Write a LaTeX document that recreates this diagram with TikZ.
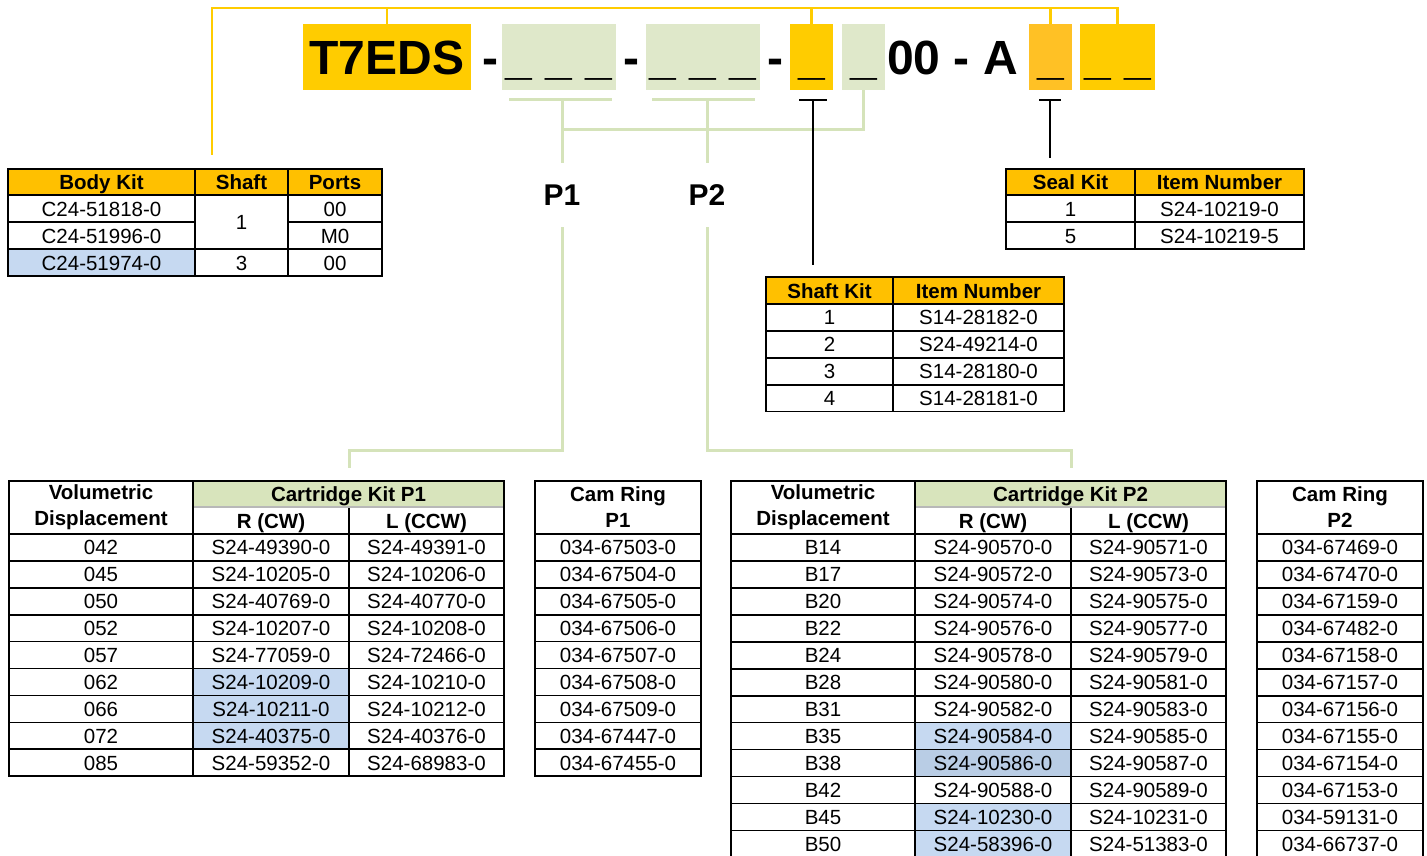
\documentclass[tikz,border=0pt]{standalone}
\usepackage{fontspec}
\setmainfont{Liberation Sans}
\usetikzlibrary{calc}
\definecolor{hdr}{HTML}{FFC000}
\definecolor{ybox}{HTML}{FFCC00}
\definecolor{ybox2}{HTML}{FFC125}
\definecolor{gbox}{HTML}{DFE8CA}
\definecolor{gline}{HTML}{D5E3BA}
\definecolor{ghdr}{HTML}{D8E4BC}
\definecolor{hl}{HTML}{C6D9F1}
\definecolor{hlb}{HTML}{B9CDE5}
\definecolor{sepgray}{HTML}{B8B8B8}
\newcommand\bodyf{\fontsize{20.5}{26}\selectfont}
\newcommand\headf{\fontsize{20.5}{26}\selectfont\bfseries}
\newcommand\bigf{\fontsize{48}{56}\selectfont\bfseries}
\newcommand\pfont{\fontsize{30}{36}\selectfont\bfseries}
\newcommand\tcell[7]{\node[cell,minimum width={(#4)-(#2)},minimum height={(#5)-(#3)},#6] (#1) at ({((#2)+(#4))/2},{((#3)+(#5))/2}) {#7};}
\tikzset{
  cellb/.style={draw=black,line width=1.6pt,inner sep=0pt,outer sep=0pt,fill=white,font=\bodyf,align=center},
  cell/.style={cellb,text height=15pt,text depth=0pt},
  hd/.style={fill=hdr,font=\headf},
  mh/.style={text height={},text depth={}},
  hbox/.style={inner sep=0pt,outer sep=0pt,minimum height=66pt,text height=35pt,text depth=0pt,font=\bigf},
  yl/.style={draw=ybox,line width=2.6pt},
  gl/.style={draw=gline,line width=3pt},
  bl/.style={draw=black,line width=2.4pt},
}
\begin{document}
\begin{tikzpicture}[x=1pt,y=-1pt]
\useasboundingbox (0,0) rectangle (1427,856);

% ---------- header code ----------
\node[hbox,fill=ybox,minimum width=168pt] (box0) at (387,57) {T7EDS};
\node[hbox] (d1) at (490,57) {-};
\node[hbox,fill=gbox,minimum width=114pt] (box1) at (559,57) {\_ \_ \_};
\node[hbox] (d2) at (631,57) {-};
\node[hbox,fill=gbox,minimum width=114pt] (box2) at (703,57) {\_ \_ \_};
\node[hbox] (d3) at (775,57) {-};
\node[hbox,fill=ybox,minimum width=43pt] (box3) at (811.5,57) {\_};
\node[hbox,fill=gbox,minimum width=43pt] (box4) at (863.5,57) {\_};
\node[hbox,anchor=west] (mid) at (887,57) {00 - A};
\node[hbox,fill=ybox2,minimum width=43pt] (box5) at (1050.5,57) {\_};
\node[hbox,fill=ybox,minimum width=75pt] (box6) at (1117.5,57) {\_ \_};

% ---------- yellow connectors ----------
\coordinate (ytop) at (0,8);
\coordinate (yend) at (212,155);
\draw[yl] (yend) |- (box6.north |- ytop) -- (box6.north);
\draw[yl] (box0.north |- ytop) -- (box0.north);
\draw[yl] (box3.north |- ytop) -- (box3.north);
\draw[yl] (box5.north |- ytop) -- (box5.north);

% ---------- green connectors ----------
\coordinate (gt) at (0,100);
\coordinate (gm) at (0,130);
\coordinate (gb) at (0,450);
\coordinate (p1top) at (562,163);
\coordinate (p2top) at (707,163);
\coordinate (p1bot) at (562,227);
\coordinate (p2bot) at (707,227);
\coordinate (c1end) at (349,468);
\coordinate (c2end) at (1071,468);
\draw[gl] (509,100) -- (612,100);
\draw[gl] (652,100) -- (755,100);
\draw[gl] (p1top |- gt) -- (p1top);
\draw[gl] (p2top |- gt) -- (p2top);
\draw[gl] (p1top |- gm) -| (box4.south);
\node[font=\pfont,inner sep=0pt] (p1) at (562,195) {P1};
\node[font=\pfont,inner sep=0pt] (p2) at (707,195) {P2};
\draw[gl] (p1bot) |- (c1end |- gb) -- (c1end);
\draw[gl] (p2bot) |- (c2end |- gb) -- (c2end);

% ---------- black connectors ----------
\coordinate (shend) at (813,265);
\coordinate (seend) at (1050,158);
\draw[bl] (799,100) -- (827,100);
\draw[bl] (shend |- gt) -- (shend);
\draw[bl] (1039,100) -- (1061,100);
\draw[bl] (seend |- gt) -- (seend);

% ---------- body kit table ----------
\tcell{bkh1}{8}{169}{195}{195}{hd}{Body Kit}
\tcell{bkh2}{195}{169}{288}{195}{hd}{Shaft}
\tcell{bkh3}{288}{169}{382}{195}{hd}{Ports}
\tcell{bka1}{8}{195}{195}{222}{}{C24-51818-0}
\tcell{bka2}{195}{195}{288}{249}{}{1}
\tcell{bka3}{288}{195}{382}{222}{}{00}
\tcell{bkb1}{8}{222}{195}{249}{}{C24-51996-0}
\tcell{bkb3}{288}{222}{382}{249}{}{M0}
\tcell{bkc1}{8}{249}{195}{276}{fill=hl}{C24-51974-0}
\tcell{bkc2}{195}{249}{288}{276}{}{3}
\tcell{bkc3}{288}{249}{382}{276}{}{00}

% ---------- seal kit table ----------
\tcell{skh1}{1006}{169}{1135}{195}{hd}{Seal Kit}
\tcell{skh2}{1135}{169}{1304}{195}{hd}{Item Number}
\tcell{ska1}{1006}{195}{1135}{222}{}{1}
\tcell{ska2}{1135}{195}{1304}{222}{}{S24-10219-0}
\tcell{skb1}{1006}{222}{1135}{249}{}{5}
\tcell{skb2}{1135}{222}{1304}{249}{}{S24-10219-5}

% ---------- shaft kit table ----------
\tcell{shh1}{766}{277}{893}{304}{hd}{Shaft Kit}
\tcell{shh2}{893}{277}{1064}{304}{hd}{Item Number}
\foreach \k/\n [count=\i from 0] in {1/S14-28182-0,2/S24-49214-0,3/S14-28180-0,4/S14-28181-0}{
  \pgfmathsetmacro\ya{304+\i*26.9}
  \pgfmathsetmacro\yb{\ya+26.9}
  \tcell{sh\i a}{766}{\ya}{893}{\yb}{}{\k}
  \tcell{sh\i b}{893}{\ya}{1064}{\yb}{}{\n}
}

% ---------- cartridge P1 ----------
\tcell{p1vol}{9}{481}{193}{534}{font=\headf,mh}{Volumetric\\Displacement}
\tcell{p1ck}{193}{481}{504}{507}{fill=ghdr,font=\headf}{Cartridge Kit P1}
\tcell{p1r}{193}{507}{349}{534}{font=\headf}{R (CW)}
\tcell{p1l}{349}{507}{504}{534}{font=\headf}{L (CCW)}
\draw[line width=1.6pt,sepgray] (194,507) -- (503,507);
\tcell{p1cam}{535}{481}{701}{534}{font=\headf,mh}{Cam Ring\\P1}
\foreach \v/\r/\l/\c/\f [count=\i from 0] in {
  042/S24-49390-0/S24-49391-0/034-67503-0/white,
  045/S24-10205-0/S24-10206-0/034-67504-0/white,
  050/S24-40769-0/S24-40770-0/034-67505-0/white,
  052/S24-10207-0/S24-10208-0/034-67506-0/white,
  057/S24-77059-0/S24-72466-0/034-67507-0/white,
  062/S24-10209-0/S24-10210-0/034-67508-0/hl,
  066/S24-10211-0/S24-10212-0/034-67509-0/hl,
  072/S24-40375-0/S24-40376-0/034-67447-0/hl,
  085/S24-59352-0/S24-68983-0/034-67455-0/white}{
  \pgfmathsetmacro\ya{534+\i*26.9}
  \pgfmathsetmacro\yb{\ya+26.9}
  \tcell{pa\i v}{9}{\ya}{193}{\yb}{}{\v}
  \tcell{pa\i r}{193}{\ya}{349}{\yb}{fill=\f}{\r}
  \tcell{pa\i l}{349}{\ya}{504}{\yb}{}{\l}
  \tcell{pa\i c}{535}{\ya}{701}{\yb}{}{\c}
}

% ---------- cartridge P2 ----------
\tcell{p2vol}{731}{481}{915}{534}{font=\headf,mh}{Volumetric\\Displacement}
\tcell{p2ck}{915}{481}{1226}{507}{fill=ghdr,font=\headf}{Cartridge Kit P2}
\tcell{p2r}{915}{507}{1071}{534}{font=\headf}{R (CW)}
\tcell{p2l}{1071}{507}{1226}{534}{font=\headf}{L (CCW)}
\draw[line width=1.6pt,sepgray] (916,507) -- (1225,507);
\tcell{p2cam}{1257}{481}{1423}{534}{font=\headf,mh}{Cam Ring\\P2}
\foreach \v/\r/\l/\c/\f [count=\i from 0] in {
  B14/S24-90570-0/S24-90571-0/034-67469-0/white,
  B17/S24-90572-0/S24-90573-0/034-67470-0/white,
  B20/S24-90574-0/S24-90575-0/034-67159-0/white,
  B22/S24-90576-0/S24-90577-0/034-67482-0/white,
  B24/S24-90578-0/S24-90579-0/034-67158-0/white,
  B28/S24-90580-0/S24-90581-0/034-67157-0/white,
  B31/S24-90582-0/S24-90583-0/034-67156-0/white,
  B35/S24-90584-0/S24-90585-0/034-67155-0/hl,
  B38/S24-90586-0/S24-90587-0/034-67154-0/hlb,
  B42/S24-90588-0/S24-90589-0/034-67153-0/white,
  B45/S24-10230-0/S24-10231-0/034-59131-0/hl,
  B50/S24-58396-0/S24-51383-0/034-66737-0/hl}{
  \pgfmathsetmacro\ya{534+\i*26.95}
  \pgfmathsetmacro\yb{\ya+26.95}
  \tcell{pb\i v}{731}{\ya}{915}{\yb}{}{\v}
  \tcell{pb\i r}{915}{\ya}{1071}{\yb}{fill=\f}{\r}
  \tcell{pb\i l}{1071}{\ya}{1226}{\yb}{}{\l}
  \tcell{pb\i c}{1257}{\ya}{1423}{\yb}{}{\c}
}
\end{tikzpicture}
\end{document}
